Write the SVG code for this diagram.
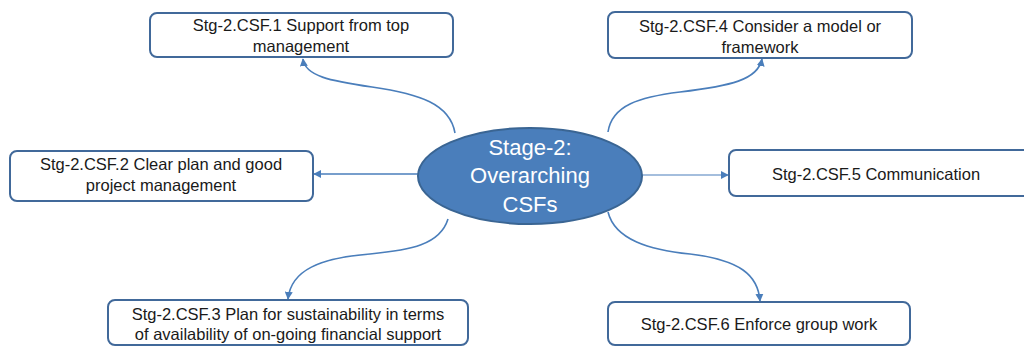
<svg xmlns="http://www.w3.org/2000/svg" width="1024" height="347" viewBox="0 0 1024 347">
  <style>
    .box { fill: #ffffff; stroke: #41699a; stroke-width: 2; }
    .lbl { font-family: "Liberation Sans", Arial, sans-serif; font-size: 16.5px; fill: #1a1a1a; text-anchor: middle; }
    .hub { fill: #4a7ebb; stroke: #3a6593; stroke-width: 2; }
    .hubtxt { font-family: "Liberation Sans", Arial, sans-serif; font-size: 22px; fill: #ffffff; text-anchor: middle; }
    .con { fill: none; stroke: #4a7ebb; stroke-width: 1.6; marker-end: url(#arr); }
  </style>
  <defs>
    <marker id="arr" viewBox="0 0 10 10" refX="9" refY="5" markerWidth="8" markerHeight="8" markerUnits="userSpaceOnUse" orient="auto">
      <path d="M0,0 L10,5 L0,10 z" fill="#4a7ebb"/>
    </marker>
  </defs>

  <rect width="1024" height="347" fill="#ffffff"/>

  <!-- connectors from the central hub out to each factor -->
  <g id="connectors">
    <path class="con" d="M455,133 C450,104 420,94 372,87 C330,81 305,76 303,59"/>
    <path class="con" d="M418,174 L314,174"/>
    <path class="con" d="M448,219 C440,245 410,250 370,254 C320,258 291,270 288,299"/>
    <path class="con" d="M608,132 C612,105 640,97 680,92 C730,86 758,80 762,59"/>
    <path class="con" d="M642,175 L728,175" style="stroke-width:1.2"/>
    <path class="con" d="M608,212 C615,240 650,250 690,254 C740,260 758,275 760,301"/>
  </g>

  <g id="hub">
    <ellipse class="hub" cx="530" cy="176" rx="112" ry="48"/>
    <text class="hubtxt" x="530" y="155">Stage-2:</text>
    <text class="hubtxt" x="530" y="183">Overarching</text>
    <text class="hubtxt" x="530" y="212">CSFs</text>
  </g>

  <g id="csf1">
    <rect class="box" x="150" y="13" width="303" height="44" rx="7"/>
    <text class="lbl" x="301" y="31">Stg-2.CSF.1 Support from top</text>
    <text class="lbl" x="301" y="52">management</text>
  </g>

  <g id="csf2">
    <rect class="box" x="10" y="151" width="303" height="50" rx="7"/>
    <text class="lbl" x="161" y="170">Stg-2.CSF.2 Clear plan and good</text>
    <text class="lbl" x="161" y="191">project management</text>
  </g>

  <g id="csf3">
    <rect class="box" x="108" y="300" width="360" height="45" rx="7"/>
    <text class="lbl" x="288" y="320">Stg-2.CSF.3 Plan for sustainability in terms</text>
    <text class="lbl" x="288" y="340">of availability of on-going financial support</text>
  </g>

  <g id="csf4">
    <rect class="box" x="608" y="12" width="304" height="46" rx="7"/>
    <text class="lbl" x="760" y="32">Stg-2.CSF.4 Consider a model or</text>
    <text class="lbl" x="760" y="53">framework</text>
  </g>

  <g id="csf5">
    <rect class="box" x="729" y="150" width="310" height="46" rx="7"/>
    <text class="lbl" x="876" y="180">Stg-2.CSF.5 Communication</text>
  </g>

  <g id="csf6">
    <rect class="box" x="608" y="302" width="302" height="43" rx="7"/>
    <text class="lbl" x="759" y="330">Stg-2.CSF.6 Enforce group work</text>
  </g>
</svg>
